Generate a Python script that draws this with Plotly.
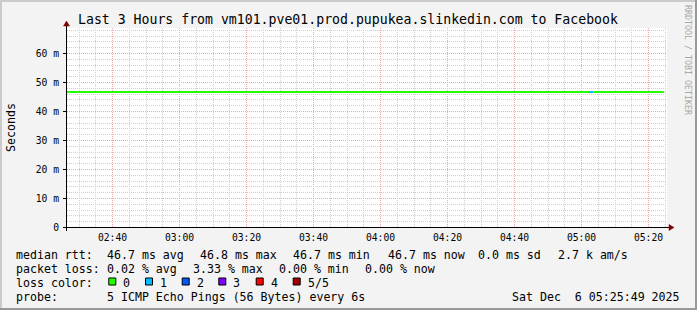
import plotly.graph_objects as go
import pandas as pd

# ---------------- data ----------------
seg_start = ["2025-12-06 02:26:00", "2025-12-06 05:02:15", "2025-12-06 05:03:30"]
seg_end = ["2025-12-06 05:02:15", "2025-12-06 05:03:30", "2025-12-06 05:24:40"]
seg_rtt_ms = [46.7, 46.7, 46.7]
seg_loss = [0, 1, 0]

loss_labels = ["0", "1", "2", "3", "4", "5/5"]
loss_colors = ["#26ff00", "#00b8ff", "#0059ff", "#7e00ff", "#ff0000", "#a00000"]

y_tick_vals = [0, 10, 20, 30, 40, 50, 60]          # ms
y_tick_text = ["0", "10 m", "20 m", "30 m", "40 m", "50 m", "60 m"]

rtt_stats = [("46.7", "avg"), ("46.8", "max"), ("46.7", "min"), ("46.7", "now")]
rtt_sd = "0.0"
rtt_am = "2.7"
loss_stats = [("0.02", "avg"), ("3.33", "max"), ("0.00", "min"), ("0.00", "now")]

title = "Last 3 Hours from vm101.pve01.prod.pupukea.slinkedin.com to Facebook"
probe_text = "5 ICMP Echo Pings (56 Bytes) every 6s"
stamp = "Sat Dec\u00a0 6 05:25:49 2025"

# ---------------- layout geometry ----------------
FW, FH = 697, 310
L, T, W, H = 67, 28, 600, 200
MONO = "DejaVu Sans Mono"
MAJOR = "#efa6a6"
MINOR = "#cfcfcf"
PX_PER_MS = 2.9          # 10 ms -> 29 px (whole pixels so grid lines stay crisp)
PX_PER_MIN = 3.35        # 20 min -> 67 px

# x window: 04:00 lands on pixel centre 380.5
t_mid = pd.Timestamp("2025-12-06 04:00:00")
x0_ts = t_mid - pd.Timedelta(minutes=(380.5 - L) / PX_PER_MIN)
x1_ts = x0_ts + pd.Timedelta(minutes=W / PX_PER_MIN)
x_start = x0_ts.strftime("%Y-%m-%d %H:%M:%S.%f")
x_end = x1_ts.strftime("%Y-%m-%d %H:%M:%S.%f")
x_tick0 = "2025-12-06 02:40:00"

# y window: 0 lands on pixel centre 227.5
y_lo = -0.5 / PX_PER_MS
y_hi = y_lo + H / PX_PER_MS


def px(x):
    return (x - L) / W


def py(y):
    return (T + H - y) / H


# minor grid positions (every 5 min / 2 ms, skipping the major ones)
all5 = pd.date_range("2025-12-06 02:30:00", "2025-12-06 05:25:00", freq="5min")
x_minor = [t.strftime("%Y-%m-%d %H:%M:%S") for t in all5 if t.minute % 20 != 0]
y_minor = [v for v in range(2, 69, 2) if v % 10 != 0]

fig = go.Figure()

for s, e, v, lo in zip(seg_start, seg_end, seg_rtt_ms, seg_loss):
    fig.add_trace(go.Scatter(
        x=[s, e], y=[v, v], mode="lines",
        line=dict(color=loss_colors[lo], width=2),
        showlegend=False, hoverinfo="skip"))

# invisible trace so the overlay axes (minor grid) exist
fig.add_trace(go.Scatter(x=[seg_start[0]], y=[seg_rtt_ms[0]], mode="lines",
                         xaxis="x2", yaxis="y2", opacity=0, showlegend=False,
                         hoverinfo="skip"))

ann = []


def text(x, y, s, size=11.6, xanchor="left", color="#000", **kw):
    ann.append(dict(x=px(x), y=py(y), xref="paper", yref="paper", text=s,
                    showarrow=False, xanchor=xanchor, yanchor="middle",
                    font=dict(family=MONO, size=size, color=color),
                    borderpad=0, borderwidth=0, **kw))


# title
text(348, 19, title, size=13.2, xanchor="center")
# y title
text(11, 128, "Seconds", xanchor="center", textangle=-90)
# watermark
ann.append(dict(x=px(688), y=py(5), xref="paper", yref="paper",
                text="RRDTOOL / TOBI OETIKER", showarrow=False, textangle=90,
                xanchor="center", yanchor="top", borderpad=0, borderwidth=0,
                font=dict(family=MONO, size=8.3, color="#a8a8a8")))

# legend rows
r1 = [16, 106.7, 200, 293.3, 387.5, 478.3, 558.3]
row1 = ["median rtt:"] + [f"{v} ms {k}" for v, k in rtt_stats] + [f"{rtt_sd} ms sd", f"{rtt_am} k am/s"]
for x, s in zip(r1, row1):
    text(x, 254.5, s)

r2 = [16, 106.7, 193.3, 279.3, 365]
row2 = ["packet loss:"] + [f"{v} % {k}" for v, k in loss_stats]
for x, s in zip(r2, row2):
    text(x, 268.5, s)

text(16, 282.5, "loss color:")
box_x = [108.3, 145, 181.7, 218.3, 255.7, 292.7]
shapes = []
for bx, lab, col in zip(box_x, loss_labels, loss_colors):
    shapes.append(dict(type="rect", xref="paper", yref="paper",
                       x0=px(bx + 0.5), x1=px(bx + 7.5), y0=py(285), y1=py(278),
                       fillcolor=col, line=dict(color="#000", width=1)))
    text(bx + 15, 282.5, lab)

text(16, 296.5, "probe:")
text(106.7, 296.5, probe_text)
text(680, 296.5, stamp, xanchor="right")

# frame (3D shade)
shapes += [
    dict(type="rect", xref="paper", yref="paper", x0=px(0), x1=px(2), y0=py(310), y1=py(0),
         fillcolor="#cbcbcb", line=dict(width=0), layer="below"),
    dict(type="rect", xref="paper", yref="paper", x0=px(0), x1=px(697), y0=py(2), y1=py(0),
         fillcolor="#cbcbcb", line=dict(width=0), layer="below"),
    dict(type="rect", xref="paper", yref="paper", x0=px(695), x1=px(697), y0=py(310), y1=py(0),
         fillcolor="#999999", line=dict(width=0), layer="below"),
    dict(type="rect", xref="paper", yref="paper", x0=px(0), x1=px(697), y0=py(310), y1=py(308),
         fillcolor="#999999", line=dict(width=0), layer="below"),
]
# axis lines + arrows
shapes += [
    dict(type="line", xref="paper", yref="paper", x0=px(63), x1=px(670), y0=py(227.5), y1=py(227.5),
         line=dict(color="#000", width=1)),
    dict(type="line", xref="paper", yref="paper", x0=px(66.5), x1=px(66.5), y0=py(231), y1=py(24),
         line=dict(color="#000", width=1)),
    dict(type="path", xref="paper", yref="paper",
         path=f"M {px(669)} {py(224.5)} L {px(674)} {py(227.5)} L {px(669)} {py(230.5)} Z",
         fillcolor="#7f0000", line=dict(color="#7f0000", width=0.5)),
    dict(type="path", xref="paper", yref="paper",
         path=f"M {px(63.5)} {py(26)} L {px(66.5)} {py(21)} L {px(69.5)} {py(26)} Z",
         fillcolor="#7f0000", line=dict(color="#7f0000", width=0.5)),
]

grid_common = dict(griddash="1px,1px", gridwidth=1, showline=False, zeroline=False,
                   fixedrange=True)

fig.update_layout(
    width=FW, height=FH,
    margin=dict(l=L, r=FW - L - W, t=T, b=FH - T - H, pad=0),
    paper_bgcolor="#f3f3f3", plot_bgcolor="#ffffff",
    annotations=ann, shapes=shapes, showlegend=False,
    xaxis=dict(
        type="date", range=[x_start, x_end],
        tick0=x_tick0, dtick=20 * 60 * 1000, tickformat="%H:%M",
        showgrid=True, gridcolor=MAJOR, ticks="",
        tickfont=dict(family=MONO, size=9.7, color="#000"),
        ticklabelstandoff=2, **grid_common,
    ),
    yaxis=dict(
        range=[y_lo, y_hi], tickmode="array", tickvals=y_tick_vals, ticktext=y_tick_text,
        showgrid=True, gridcolor=MAJOR,
        ticks="outside", ticklen=3, tickcolor="#000",
        tickfont=dict(family=MONO, size=9.7, color="#000"),
        ticklabelstandoff=2, **grid_common,
    ),
    xaxis2=dict(
        type="date", range=[x_start, x_end], overlaying="x",
        tickmode="array", tickvals=x_minor, showticklabels=False, ticks="",
        showgrid=True, gridcolor=MINOR, **grid_common,
    ),
    yaxis2=dict(
        range=[y_lo, y_hi], overlaying="y",
        tickmode="array", tickvals=y_minor, showticklabels=False, ticks="",
        showgrid=True, gridcolor=MINOR, **grid_common,
    ),
)

fig.write_html("out.html", config={"displayModeBar": False})
